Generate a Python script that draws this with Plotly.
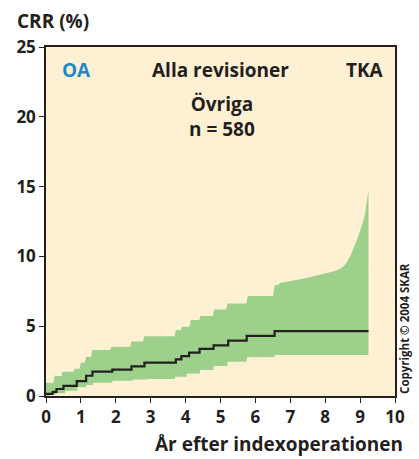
import plotly.graph_objects as go

# Cumulative revision rate (%) over years after index operation
med_t = [0, 0.19, 0.3, 0.5, 0.88, 1.15, 1.33, 1.9, 2.45, 2.82, 3.72, 3.88, 4.1, 4.4, 4.8, 5.22, 5.75, 6.55, 9.24]
med_v = [0.15, 0.3, 0.5, 0.73, 1.07, 1.45, 1.74, 1.89, 2.12, 2.39, 2.63, 2.86, 3.1, 3.37, 3.63, 3.96, 4.3, 4.65, 4.65]

# Upper confidence limit: stepped part, then a smooth rising tail
up_step_t = [0, 0.25, 0.48, 0.82, 1.0, 1.15, 1.33, 1.88, 2.45, 2.82, 3.72, 3.9, 4.15, 4.43, 4.82, 5.2, 5.78, 6.55]
up_step_v = [0.95, 1.43, 1.74, 1.95, 2.39, 2.82, 3.29, 3.53, 3.9, 4.28, 4.73, 4.96, 5.44, 5.73, 6.2, 6.63, 7.16, 7.95]
up_tail_t = [6.7, 6.9, 7.1, 7.4, 7.7, 7.9, 8.1, 8.3, 8.45, 8.55, 8.62, 8.68, 8.74, 8.8, 8.86, 8.92, 8.98, 9.04, 9.1, 9.15, 9.2, 9.24]
up_tail_v = [8.1, 8.19, 8.27, 8.42, 8.6, 8.72, 8.85, 8.98, 9.15, 9.35, 9.6, 9.85, 10.15, 10.5, 10.85, 11.25, 11.7, 12.1, 12.6, 13.2, 14.0, 14.8]

low_t = [0, 0.1, 0.3, 0.55, 0.9, 1.15, 1.35, 1.9, 2.48, 2.9, 3.7, 4.03, 4.41, 4.8, 5.2, 5.75, 6.55, 9.24]
low_v = [0.0, 0.1, 0.2, 0.38, 0.62, 0.79, 0.95, 1.1, 1.19, 1.22, 1.38, 1.62, 1.86, 2.15, 2.46, 2.77, 2.94, 2.94]

x_ticks = list(range(0, 11))
y_ticks = [0, 5, 10, 15, 20, 25]

CREAM = "#FEF1D3"
GREEN = "#9DD08B"
INK = "#231F20"
BLUE = "#1E88C7"
FONT = "Open Sans"

# Upper edge path: each step holds its level, then rises over a short slope
RISE = 0.04
up_x, up_y = [], []
for i, (t, v) in enumerate(zip(up_step_t, up_step_v)):
    nxt = up_step_t[i + 1] if i + 1 < len(up_step_t) else up_tail_t[0]
    up_x += [t, nxt - RISE]
    up_y += [v, v]
up_x += up_tail_t
up_y += up_tail_v

fig = go.Figure()
fig.add_trace(go.Scatter(x=low_t, y=low_v, mode="lines", line=dict(width=0, shape="hv", color=GREEN),
                         hoverinfo="skip", showlegend=False))
fig.add_trace(go.Scatter(x=up_x, y=up_y, mode="lines", line=dict(width=0, color=GREEN),
                         fill="tonexty", fillcolor=GREEN, hoverinfo="skip", showlegend=False))
fig.add_trace(go.Scatter(x=med_t, y=med_v, mode="lines", line=dict(width=2.2, shape="hv", color=INK),
                         showlegend=False))

axis_common = dict(showgrid=False, zeroline=False, showline=True, linecolor=INK, linewidth=1.5,
                   mirror=True, ticks="outside", ticklen=5, tickwidth=1.2, tickcolor=INK,
                   tickfont=dict(family=FONT, size=17, color=INK, weight="bold"))

fig.update_xaxes(range=[0, 10], tickvals=x_ticks, **axis_common)
fig.update_yaxes(range=[0, 25], tickvals=y_ticks, **axis_common)

bold = dict(family=FONT, size=19, color=INK, weight="bold")
annotations = [
    dict(text="CRR (%)", xref="paper", yref="paper", x=-0.088, y=1.075, xanchor="left", yanchor="middle",
         font=dict(family=FONT, size=19, color=INK, weight="bold"), showarrow=False),
    dict(text="År efter indexoperationen", xref="paper", yref="paper", x=1.03, y=-0.095, xanchor="right",
         yanchor="top", font=bold, showarrow=False),
    dict(text="OA", xref="paper", yref="paper", x=0.04, y=0.935, xanchor="left", yanchor="middle",
         font=dict(family=FONT, size=19, color=BLUE, weight="bold"), showarrow=False),
    dict(text="Alla revisioner", xref="paper", yref="paper", x=0.5, y=0.935, xanchor="center",
         yanchor="middle", font=bold, showarrow=False),
    dict(text="TKA", xref="paper", yref="paper", x=0.975, y=0.935, xanchor="right", yanchor="middle",
         font=bold, showarrow=False),
    dict(text="Övriga<br>n = 580", xref="paper", yref="paper", x=0.505, y=0.80, xanchor="center",
         yanchor="middle", font=bold, showarrow=False),
    dict(text="Copyright © 2004 SKAR", xref="paper", yref="paper", x=1.027, y=0.0, xanchor="center",
         yanchor="bottom", textangle=-90, font=dict(family=FONT, size=11.5, color=INK, weight="bold"),
         showarrow=False),
]

fig.update_layout(
    width=419, height=459,
    margin=dict(l=46, r=24, t=47, b=63),
    paper_bgcolor="white", plot_bgcolor=CREAM,
    annotations=annotations,
)

fig.write_html("out.html")
